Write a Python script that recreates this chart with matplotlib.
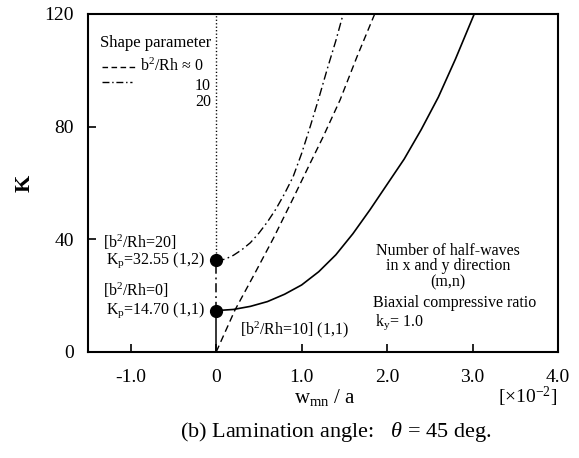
import matplotlib
matplotlib.use("Agg")
import matplotlib.pyplot as plt
from matplotlib.lines import Line2D

plt.rcParams['font.family'] = ['Liberation Serif', 'DejaVu Serif']
plt.rcParams['mathtext.fontset'] = 'custom'
plt.rcParams['mathtext.rm'] = 'Liberation Serif'
plt.rcParams['mathtext.it'] = 'Liberation Serif:italic'
plt.rcParams['mathtext.bf'] = 'Liberation Serif:bold'

# ---- data ----
w_rh0 = [0, 0.22, 0.45, 0.67, 0.9, 1.08, 1.25, 1.45, 1.65, 1.855]
K_rh0 = [0, 14.9, 27.8, 40.4, 54.5, 65.8, 76.3, 89.5, 105, 120]

w_rh10 = [0, 0.2, 0.4, 0.6, 0.8, 1.0, 1.2, 1.4, 1.6, 1.8, 2.0, 2.2, 2.4, 2.6, 2.8, 3.02]
K_rh10 = [14.7, 15.1, 16.2, 17.9, 20.5, 23.8, 28.5, 34.5, 42, 50.5, 59.5, 68.5, 79, 90.5, 104, 120]

w_rh20 = [0, 0.1, 0.2, 0.3, 0.4, 0.5, 0.6, 0.7, 0.8, 0.9, 1.0, 1.1, 1.2, 1.3, 1.4, 1.486]
K_rh20 = [32.55, 32.9, 34.3, 36.3, 38.8, 42.2, 46.2, 50.8, 56.2, 62.2, 70.5, 80, 90, 100.5, 110.5, 120]

Kp_values = [14.70, 32.55]

x_ticks = [-1.0, 0, 1.0, 2.0, 3.0, 4.0]
x_ticklabels = ['-1.0', '0', '1.0', '2.0', '3.0', '4.0']
y_ticks = [0, 40, 80, 120]
y_ticklabels = ['0', '40', '80', '120']

# ---- figure ----
fig = plt.figure(figsize=(5.79, 4.58), dpi=100)
ax = fig.add_axes([88/579, 1-352/458, (558-88)/579, (352-14)/458])

lw = 1.0
dash = (0, (5, 3))
dashdot = (0, (6, 2.5, 1.2, 2.5))

# vertical dotted line at w=0
ax.plot([0, 0], [Kp_values[1], 120], color='black', lw=1.0, linestyle=(0, (0.9, 1.6)))
# vertical portions at w = 0
ax.plot([0, 0], [0, Kp_values[0]], color='black', lw=1.1, linestyle='-')
ax.plot([0, 0], [Kp_values[0], Kp_values[1]], color='black', lw=1.1, linestyle=dashdot)

ax.plot(w_rh0, K_rh0, color='black', lw=lw, linestyle=dash)
ax.plot(w_rh10, K_rh10, color='black', lw=1.2, linestyle='-')
ax.plot(w_rh20, K_rh20, color='black', lw=lw, linestyle=dashdot)

ax.plot([0, 0], Kp_values, 'o', color='black', markersize=8.5, linestyle='none', zorder=5)

ax.set_xlim(-1.5, 4.0)
ax.set_ylim(0, 120)
ax.set_xticks(x_ticks)
ax.set_xticklabels(x_ticklabels)
ax.set_yticks(y_ticks)
ax.set_yticklabels(y_ticklabels)
ax.tick_params(direction='in', length=6, width=1.2, labelsize=14)
ax.tick_params(axis='x', pad=12)
ax.tick_params(axis='y', pad=10)
for s in ax.spines.values():
    s.set_linewidth(1.5)

fs = 11.5
# legend-like block
ax.text(-1.357, 109.7, 'Shape parameter', fontsize=12, va='center', ha='left')
ax.add_line(Line2D([-1.334, -0.913], [101.2, 101.2], color='black', lw=1.0, linestyle=(0, (4, 2.5))))
ax.text(-0.889, 101.5, 'b$^2$/Rh ≈ 0', fontsize=fs, va='center', ha='left')
ax.add_line(Line2D([-1.334, -0.983], [95.8, 95.8], color='black', lw=1.0, linestyle=(0, (5, 2, 1, 2))))
ax.text(-0.059, 94.6, '10', fontsize=fs, va='center', ha='right')
ax.text(-0.059, 88.9, '20', fontsize=fs, va='center', ha='right')

# point annotations
ax.text(-1.32, 39.0, '[b$^2$/Rh=20]', fontsize=fs, va='center', ha='left')
ax.text(-0.129, Kp_values[1], 'K$_{\\mathrm{p}}$=32.55 (1,2)', fontsize=fs, va='center', ha='right')
ax.text(-1.32, 22.0, '[b$^2$/Rh=0]', fontsize=fs, va='center', ha='left')
ax.text(-0.129, Kp_values[0], 'K$_{\\mathrm{p}}$=14.70 (1,1)', fontsize=fs, va='center', ha='right')
ax.text(0.28, 7.8, '[b$^2$/Rh=10] (1,1)', fontsize=fs, va='center', ha='left')

# right block
ax.text(2.715, 36.0, 'Number of half-waves', fontsize=fs, va='center', ha='center')
ax.text(2.715, 30.6, 'in x and y direction', fontsize=fs, va='center', ha='center')
ax.text(2.715, 24.8, '(m,n)', fontsize=fs, va='center', ha='center')
ax.text(1.837, 17.4, 'Biaxial compressive ratio', fontsize=fs, va='center', ha='left')
ax.text(1.86, 10.6, 'k$_{\\mathrm{y}}$= 1.0', fontsize=fs, va='center', ha='left')

# axis labels
fig.text(325/579, 1-398/458, 'w$_{\\mathrm{mn}}$ / a', fontsize=15, ha='center', va='center')
fig.text(557/579, 1-397/458, '[×10$^{\\mathrm{-2}}$]', fontsize=14, ha='right', va='center')
fig.text(25/579, 1-183/458, 'K', fontsize=16, fontweight='bold', ha='center', va='center', rotation=90)
fig.text(336/579, 1-432/458, '(b) Lamination angle:   $\\theta$ = 45 deg.', fontsize=16, ha='center', va='center')

fig.savefig('out.png', dpi=100)
